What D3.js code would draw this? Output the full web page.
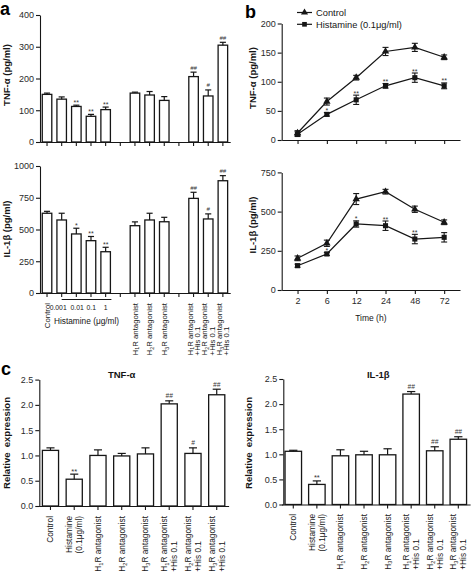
<!DOCTYPE html>
<html><head><meta charset="utf-8">
<script src="https://cdn.jsdelivr.net/npm/d3@7"></script>
<style>
body{margin:0;background:#fff}
svg{display:block}
</style></head><body>
<svg id="c" width="472" height="573"></svg>
<script>
// ---------- DATA ----------
// Panel a
const aSlots = ["Control","His 0.001","His 0.01","His 0.1","His 1","gap1","H1R antagonist","H2R antagonist","H3R antagonist","gap2","H1R antagonist +His 0.1","H2R antagonist +His 0.1","H3R antagonist +His 0.1"];
const aBarKeys = ["Control","His 0.001","His 0.01","His 0.1","His 1","H1R antagonist","H2R antagonist","H3R antagonist","H1R antagonist +His 0.1","H2R antagonist +His 0.1","H3R antagonist +His 0.1"];
const aTnfValues = [150,135,112,81,102,154,148,131,206,145,305];
const aTnfErrors = [4,7,4,6,8,3,11,12,14,19,9];
const aTnfMarks = ["","","**","**","**","","","","##","#","##"];
const aIlValues = [628,575,465,412,325,530,575,561,745,583,884];
const aIlErrors = [15,53,45,33,35,30,53,35,48,40,40];
const aIlMarks = ["","","*","**","**","","","","##","#","##"];
const aTnfTicks = [0,100,200,300,400];
const aIlTicks = [0,250,500,750,1000];
const aDoseLabels = ["0.001","0.01","0.1","1"];
const aAxisLabels = [["Control"],null,null,null,null,null,["H_1R antagonist"],["H_2R antagonist"],["H_3R antagonist"],null,["H_1R antagonist","+His 0.1"],["H_2R antagonist","+His 0.1"],["H_3R antagonist","+His 0.1"]];

// Panel b
const bTimes = ["2","6","12","24","48","72"];
const bTnfControl = [12,66,107,152,159,142];
const bTnfControlErr = [4,6,4,7,7,4];
const bTnfHis = [10,44,69,93,107,93];
const bTnfHisErr = [4,3,8,4,8,5];
const bTnfMarks = ["","*","**","**","**","**"];
const bIlControl = [202,298,580,627,515,432];
const bIlControlErr = [15,20,35,15,20,15];
const bIlHis = [155,230,421,410,325,336];
const bIlHisErr = [10,10,20,30,30,30];
const bIlMarks = ["","*","*","**","**",""];
const bTnfTicks = [0,50,100,150,200];
const bIlTicks = [0,250,500,750];
const bSeries = ["Control","Histamine (0.1μg/ml)"];

// Panel c
const cCategories = ["Control","Histamine","H1R antagonist","H2R antagonist","H3R antagonist","H1R antagonist +His 0.1","H2R antagonist +His 0.1","H3R antagonist +His 0.1"];
const cTnfValues = [1.10,0.53,1.00,0.99,1.03,2.02,1.04,2.20];
const cTnfErrors = [0.05,0.10,0.11,0.05,0.12,0.06,0.11,0.11];
const cTnfMarks = ["","**","","","","##","#","##"];
const cIlValues = [1.06,0.40,0.97,0.99,0.99,2.20,1.07,1.30];
const cIlErrors = [0.02,0.07,0.12,0.07,0.12,0.05,0.08,0.05];
const cIlMarks = ["","**","","","","##","##","##"];
const cTicks = [0,0.5,1.0,1.5,2.0,2.5];
const cAxisLabels = [["Control"],["Histamine","(0.1μg/ml)"],["H_1R antagonist"],["H_2R antagonist"],["H_3R antagonist"],["H_1R antagonist","+His 0.1"],["H_2R antagonist","+His 0.1"],["H_3R antagonist","+His 0.1"]];
const cLabelAlign = ["start","end","start","start","start","start","start","start"];

// ---------- DRAWING ----------
const FONT = '"Liberation Sans", Arial, Helvetica, sans-serif';
const INK = "#161616";
const svg = d3.select("#c").attr("font-family", FONT);

function styleAxis(gg, fs) {
  gg.attr("font-family", FONT).attr("font-size", fs || 9);
  gg.selectAll("path,line").attr("stroke", INK).attr("stroke-width", 1.1);
  gg.selectAll("text").attr("fill", "#2a2a2a");
}
function yAxis(scale, x, ticks, fmt) {
  const gg = svg.append("g").attr("transform", `translate(${x},0)`)
    .call(d3.axisLeft(scale).tickValues(ticks).tickFormat(fmt || d3.format("d")).tickSize(4).tickSizeOuter(0).tickPadding(2));
  styleAxis(gg);
  return gg;
}
function xAxis(scale, y, withLabels) {
  const ax = d3.axisBottom(scale).tickSize(4).tickSizeOuter(0).tickPadding(4);
  if (!withLabels) ax.tickFormat("");
  const gg = svg.append("g").attr("transform", `translate(0,${y})`).call(ax);
  styleAxis(gg);
  return gg;
}
function rich(t, s, fs) {
  const parts = s.split(/_(\d)/);
  let pending = 0;
  parts.forEach((p, i) => {
    if (!p) return;
    if (i % 2) {
      t.append("tspan").attr("font-size", fs * 0.68).attr("dy", fs * 0.22).text(p);
      pending = -fs * 0.22;
    } else {
      const ts = t.append("tspan").text(p);
      if (pending) { ts.attr("dy", pending); pending = 0; }
    }
  });
}
function rotLabel(g, cx, yTop, lines, fs, gap, align) {
  const n = lines.length;
  const texts = lines.map(ln => {
    const t = g.append("text").attr("font-size", fs).attr("fill", INK).attr("text-anchor", "start");
    rich(t, ln, fs);
    return t;
  });
  const lens = texts.map(t => t.node().getComputedTextLength());
  const maxL = Math.max(...lens);
  texts.forEach((t, i) => {
    const c = cx + (i - (n - 1) / 2) * gap;
    const bx = c + 0.36 * fs;
    const by = align === "end" ? yTop + lens[i] : yTop + maxL;
    t.attr("transform", `translate(${bx},${by}) rotate(-90)`);
  });
}
function bars(x, y, keys, vals, errs, marks, capFrac, markFs) {
  const g = svg.append("g");
  const data = keys.map((k, i) => ({k, v: vals[i], e: errs[i], m: marks[i]}));
  const bw = x.bandwidth();
  g.selectAll("rect").data(data).join("rect")
    .attr("x", d => x(d.k)).attr("y", d => y(d.v))
    .attr("width", bw).attr("height", d => y(0) - y(d.v))
    .attr("fill", "#fff").attr("stroke", INK).attr("stroke-width", 1.3);
  g.selectAll("line.eb").data(data).join("line").attr("class", "eb")
    .attr("x1", d => x(d.k) + bw / 2).attr("x2", d => x(d.k) + bw / 2)
    .attr("y1", d => y(d.v)).attr("y2", d => y(d.v + d.e))
    .attr("stroke", INK).attr("stroke-width", 1.2);
  g.selectAll("line.cap").data(data).join("line").attr("class", "cap")
    .attr("x1", d => x(d.k) + bw / 2 - bw * capFrac).attr("x2", d => x(d.k) + bw / 2 + bw * capFrac)
    .attr("y1", d => y(d.v + d.e)).attr("y2", d => y(d.v + d.e))
    .attr("stroke", INK).attr("stroke-width", 1.2);
  g.selectAll("text").data(data.filter(d => d.m)).join("text")
    .attr("x", d => x(d.k) + bw / 2).attr("y", d => y(d.v + d.e) - (d.m[0] === "#" ? 2.5 : 0.5))
    .attr("text-anchor", "middle").attr("font-size", d => d.m[0] === "#" ? markFs - 1 : markFs)
    .attr("font-style", d => d.m[0] === "#" ? "italic" : null)
    .attr("fill", "#333").text(d => d.m);
}
function yLabel(x, y, txt, fs) {
  svg.append("text").attr("transform", `translate(${x},${y}) rotate(-90)`)
    .attr("text-anchor", "middle").attr("font-size", fs || 9.5).attr("font-weight", "bold")
    .attr("fill", INK).style("white-space", "pre").text(txt);
}
function panelLetter(x, y, s) {
  svg.append("text").attr("x", x).attr("y", y).attr("font-size", 18).attr("font-weight", "bold").attr("fill", "#000").text(s);
}

// ===== Panel a =====
const xA = d3.scaleBand(aSlots, [39.7, 230.2]).paddingInner(0.35).paddingOuter(0.175);
const yA1 = d3.scaleLinear([0, 400], [142, 15]);
const yA2 = d3.scaleLinear([0, 1000], [293, 166]);
bars(xA, yA1, aBarKeys, aTnfValues, aTnfErrors, aTnfMarks, 0.32, 7);
bars(xA, yA2, aBarKeys, aIlValues, aIlErrors, aIlMarks, 0.32, 7);
yAxis(yA1, 40, aTnfTicks);
yAxis(yA2, 40, aIlTicks);
xAxis(xA, 142, false);
xAxis(xA, 293, false);
yLabel(10, 75, "TNF-α (pg/ml)");
yLabel(10, 229, "IL-1β (pg/ml)");
panelLetter(0, 15, "a");
{
  const g = svg.append("g");
  aAxisLabels.forEach((lines, i) => {
    if (!lines) return;
    rotLabel(g, xA(aSlots[i]) + xA.bandwidth() / 2, 303, lines, 7.8, 7.6, "start");
  });
  const doseSlots = aSlots.slice(1, 5);
  const doseNudge = [-3.5, 0.8, 0.3, 0];
  doseSlots.forEach((s, i) => {
    g.append("text").attr("x", xA(s) + xA.bandwidth() / 2 + doseNudge[i]).attr("y", 309.5)
      .attr("text-anchor", "middle").attr("font-size", 6.8).attr("fill", INK).text(aDoseLabels[i]);
  });
  const x0 = xA(doseSlots[0]) + xA.bandwidth() / 2, x1 = xA(doseSlots[3]) + xA.bandwidth() + 1;
  g.append("line").attr("x1", x0).attr("x2", x1).attr("y1", 299.5).attr("y2", 299.5).attr("stroke", INK).attr("stroke-width", 1);
  g.append("text").attr("x", (x0 + x1) / 2).attr("y", 323.5).attr("text-anchor", "middle")
    .attr("font-size", 8.3).attr("fill", INK).text("Histamine (μg/ml)");
}

// ===== Panel b =====
const xB = d3.scalePoint(bTimes, [281.7, 460]).padding(0.54);
const yB1 = d3.scaleLinear([0, 200], [140, 23.5]);
const yB2 = d3.scaleLinear([0, 750], [290, 172.4]);
function lineSeries(y, vals, errs, sym) {
  const g = svg.append("g");
  const data = bTimes.map((t, i) => ({t, v: vals[i], e: errs[i]}));
  g.selectAll("line.eb").data(data).join("line").attr("class", "eb")
    .attr("x1", d => xB(d.t)).attr("x2", d => xB(d.t))
    .attr("y1", d => y(d.v - d.e)).attr("y2", d => y(d.v + d.e)).attr("stroke", INK).attr("stroke-width", 1.1);
  [1, -1].forEach(sg => {
    g.selectAll("line.cap" + (sg > 0 ? "u" : "d")).data(data).join("line").attr("class", "cap" + (sg > 0 ? "u" : "d"))
      .attr("x1", d => xB(d.t) - 3).attr("x2", d => xB(d.t) + 3)
      .attr("y1", d => y(d.v + sg * d.e)).attr("y2", d => y(d.v + sg * d.e)).attr("stroke", INK).attr("stroke-width", 1.1);
  });
  g.append("path").datum(data).attr("fill", "none").attr("stroke", INK).attr("stroke-width", 1.2)
    .attr("d", d3.line().x(d => xB(d.t)).y(d => y(d.v)));
  g.selectAll("path.m").data(data).join("path").attr("class", "m")
    .attr("transform", d => `translate(${xB(d.t)},${y(d.v)})`)
    .attr("d", d3.symbol(sym, sym === d3.symbolTriangle ? 24 : 26)()).attr("fill", INK);
}
function lineMarks(y, vals, errs, marks) {
  svg.append("g").selectAll("text").data(bTimes.map((t, i) => ({t, v: vals[i], e: errs[i], m: marks[i]})).filter(d => d.m))
    .join("text").attr("x", d => xB(d.t)).attr("y", d => y(d.v + d.e) + 0.5)
    .attr("text-anchor", "middle").attr("font-size", 7).attr("fill", "#333").text(d => d.m);
}
lineSeries(yB1, bTnfControl, bTnfControlErr, d3.symbolTriangle);
lineSeries(yB1, bTnfHis, bTnfHisErr, d3.symbolSquare);
lineMarks(yB1, bTnfHis, bTnfHisErr, bTnfMarks);
lineSeries(yB2, bIlControl, bIlControlErr, d3.symbolTriangle);
lineSeries(yB2, bIlHis, bIlHisErr, d3.symbolSquare);
lineMarks(yB2, bIlHis, bIlHisErr, bIlMarks);
yAxis(yB1, 281.7, bTnfTicks);
yAxis(yB2, 281.7, bIlTicks);
xAxis(xB, 140, false);
const xbAx = xAxis(xB, 290, true);
xbAx.selectAll("text").attr("font-size", 9);
svg.append("text").attr("x", (xB(bTimes[0]) + xB(bTimes[5])) / 2).attr("y", 320.5).attr("text-anchor", "middle")
  .attr("font-size", 8.5).attr("fill", INK).text("Time (h)");
yLabel(256, 78, "TNF-α (pg/ml)");
yLabel(256, 225, "IL-1β (pg/ml)");
panelLetter(245, 18, "b");
{
  const lg = svg.append("g");
  const syms = [d3.symbolTriangle, d3.symbolSquare];
  bSeries.forEach((s, i) => {
    const yy = 12.5 + i * 11.8;
    lg.append("line").attr("x1", 297).attr("x2", 312).attr("y1", yy).attr("y2", yy).attr("stroke", INK).attr("stroke-width", 1.2);
    lg.append("path").attr("transform", `translate(304.5,${yy})`).attr("d", d3.symbol(syms[i], 22)()).attr("fill", INK);
    lg.append("text").attr("x", 316).attr("y", yy + 3.3).attr("font-size", 9.3).attr("fill", INK).text(s);
  });
}

// ===== Panel c =====
const xC1 = d3.scaleBand(cCategories, [38.6, 228.6]).paddingInner(0.32).paddingOuter(0.16);
const yC1 = d3.scaleLinear([0, 2.5], [506, 379.6]);
const xC2 = d3.scaleBand(cCategories, [281.5, 470.1]).paddingInner(0.3).paddingOuter(0.15);
const yC2 = d3.scaleLinear([0, 2.5], [504.5, 379]);
bars(xC1, yC1, cCategories, cTnfValues, cTnfErrors, cTnfMarks, 0.25, 7.5);
bars(xC2, yC2, cCategories, cIlValues, cIlErrors, cIlMarks, 0.25, 7.5);
yAxis(yC1, 39.3, cTicks, d3.format(".1f"));
yAxis(yC2, 283.3, cTicks, d3.format(".1f"));
xAxis(xC1, 506, false);
xAxis(xC2, 504.5, false);
yLabel(10, 443, "Relative  expression");
yLabel(252, 443, "Relative  expression");
panelLetter(1, 375, "c");
svg.append("text").attr("x", 121.7).attr("y", 378).attr("text-anchor", "middle").attr("font-size", 9.5).attr("font-weight", "bold").attr("fill", INK).text("TNF-α");
svg.append("text").attr("x", 378.3).attr("y", 378).attr("text-anchor", "middle").attr("font-size", 9.5).attr("font-weight", "bold").attr("fill", INK).text("IL-1β");
{
  const g = svg.append("g");
  cAxisLabels.forEach((lines, i) => {
    rotLabel(g, xC1(cCategories[i]) + xC1.bandwidth() / 2, 516, lines, 8.3, 10, cLabelAlign[i]);
    rotLabel(g, xC2(cCategories[i]) + xC2.bandwidth() / 2, 514, lines, 8.3, 10, cLabelAlign[i]);
  });
}
</script>
</body></html>
